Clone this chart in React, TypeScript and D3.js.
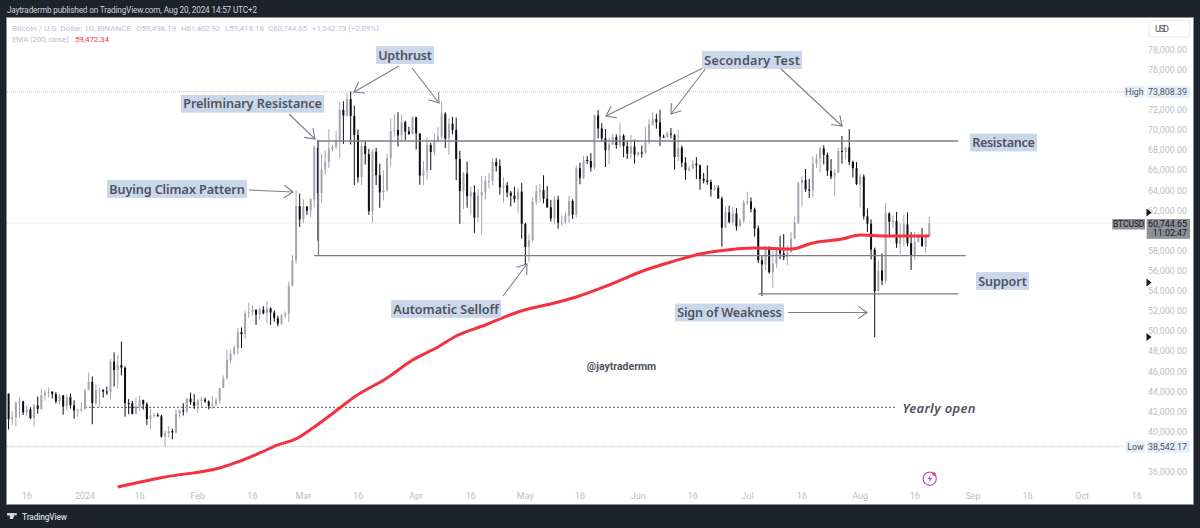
import React from "react";
import * as d3 from "d3";

const startDate = "2023-12-11";
const opens = [43791,41238,41450,42884,43022,41929,42240,41364,42623,42270,43652,43869,43997,43739,43016,43613,42520,43442,42627,42099,42142,42283,44179,44946,42845,44151,44162,43989,43943,46970,46139,46627,46368,42853,42842,41796,42511,43154,42742,41262,41618,41665,41545,39507,39845,40077,39934,41816,42120,42031,43302,42942,42580,43082,43200,43011,42582,42708,43098,44349,45288,47132,47751,48299,49917,49699,51795,51880,52124,51642,52137,51774,52258,51849,51288,50744,51568,51728,54476,57037,62432,61130,62387,61987,63113,68245,63724,66074,66823,68124,68313,68955,72000,71430,73072,71388,69499,65300,68393,67609,61937,67840,65501,63796,64037,67211,69880,69988,69469,70780,69850,69582,71280,69649,65463,65963,68487,67820,68896,69360,71620,69146,70631,70006,67116,63924,65661,63419,63793,61277,63470,63818,64941,64941,66819,66414,64289,64498,63770,63461,63118,63866,60672,58364,59060,62882,63892,64012,63165,62312,61193,63074,60799,60825,61483,62940,61577,66206,65235,67024,66915,66274,71446,70148,69166,67969,68549,69290,68507,69436,68398,67652,68352,67540,67766,67765,68809,70567,71082,70757,69342,69305,69649,69538,67321,68243,66756,66011,66191,66639,66490,65140,64960,64828,64096,64252,63180,60277,61806,60864,61706,60427,60986,62772,62899,62135,60208,57050,56628,58230,55857,56714,58050,57725,57339,57889,59204,60797,64724,65043,64087,63987,66660,67139,68165,67532,65936,65372,65777,67912,67813,68255,66819,66201,64619,65357,61415,60680,58116,53991,56034,55027,61710,60880,60945,58719,59354,60609,58739,57560,58874,59493,58439,59498];
const highs = [43808,42048,43000,43420,43080,42664,42450,42767,43500,44283,44200,44400,44000,43950,43800,43650,43700,43800,43124,42300,42900,44184,45879,45500,44700,44357,44214,44495,47248,47893,47650,48969,46515,43247,43079,43400,43578,43198,42930,42250,41840,41870,41689,40129,40555,40300,42246,42200,42842,43305,43882,43745,43285,43500,43380,43119,43550,43400,44369,45614,48200,48170,48592,50334,50368,52043,52816,52572,52162,52377,52488,52985,52371,52065,51548,51698,51958,54938,57588,64000,63676,63114,62433,63231,68499,69000,67641,67980,70083,68541,69887,72800,72850,73650,73808,72419,70043,68904,68956,68124,68106,68240,66649,65999,67622,71150,71561,71769,71552,70916,70321,71366,71288,69674,66914,69291,68725,69629,70284,72797,71758,71172,71305,71227,67931,65840,66867,64365,64499,64117,65450,65419,65700,67233,67199,67075,65297,64820,63923,64370,64228,64734,60780,59625,63333,64540,64646,65500,64422,63052,63424,63469,61515,61818,63450,63118,66444,66752,67451,67400,67700,71515,71979,70666,70096,69250,69588,69562,70687,69591,68935,69500,69044,67857,68460,70288,71063,71758,71625,71997,69560,69852,70195,69590,69999,68449,67294,66445,66999,67298,66556,65727,66482,65066,64526,64500,63369,62435,62480,62370,62225,61200,63058,63861,63288,62285,60498,57546,58475,58449,58236,58296,59470,59650,58526,59850,61420,64900,65388,66128,65133,67386,67598,68366,68480,67750,67102,66112,68200,69399,68318,70079,66950,66810,65659,65596,62198,61117,58305,57000,57737,62745,61800,61470,61855,60680,61572,61800,59849,59847,59700,60260,59617,61402];
const lows = [40222,40667,40555,41400,41666,41600,41250,40500,41800,42180,43100,43400,43300,42800,42700,41700,42100,42300,41300,41500,41965,42180,44148,40750,42630,42450,43397,43662,43200,44500,44300,45606,41500,41750,41720,41700,42047,42200,40683,40280,41400,41500,39431,38542,39484,39260,39822,41394,41620,41804,42683,42276,41884,42500,42880,42222,42258,42574,42788,44331,45242,46800,47558,47710,48300,49225,51314,51548,50625,51163,51677,50760,50625,50940,50500,50585,51279,50901,54450,56691,60364,60777,61561,61320,62300,59005,62779,65551,66230,67861,68094,67194,68620,71333,68555,64533,64780,64533,66565,61555,60775,64529,62260,63000,63825,66385,69280,68359,68903,69009,69540,69562,68062,64550,64493,65064,66011,67491,68851,69043,68210,67518,69567,65000,60660,62134,62274,61600,59768,60803,59600,63090,64207,64500,65864,63589,62794,63297,62391,62781,61765,59191,56552,56911,58811,62541,62822,62700,62261,60888,60630,60187,60487,60630,60749,61142,61319,64602,65106,66600,65857,66060,69162,68832,66312,66600,68536,68128,68250,67277,67124,67128,66670,67386,67257,67612,68567,70383,70119,68420,69210,69160,69172,66051,66905,66304,65055,65848,66109,65130,64066,64693,64559,63379,63945,63178,58402,60239,60712,60567,59985,60383,60712,62571,61806,59400,56771,53485,56018,55724,54260,56289,57157,57050,56542,57756,59204,60632,62373,63854,63238,63300,66222,65777,66574,65441,65111,63410,65738,66650,67066,66500,65301,64530,62302,61100,59850,57122,49400,53962,54558,54730,59488,60242,58286,57688,58407,58433,56078,57098,58785,58408,57787,59418];
const closes = [41243,41450,42890,43023,41929,42240,41364,42623,42270,43652,43870,43997,43739,43016,43613,42520,43442,42627,42099,42142,42283,44179,44946,42845,44151,44162,43989,43943,46970,46139,46627,46368,42853,42842,41796,42511,43154,42742,41262,41618,41665,41545,39507,39845,40077,39934,41816,42120,42031,43302,42942,42580,43082,43200,43011,42582,42708,43098,44349,45288,47132,47751,48299,49917,49699,51795,51880,52124,51642,52137,51774,52258,51849,51288,50744,51568,51728,54476,57037,62432,61130,62387,61987,63113,68245,63724,66074,66823,68124,68313,68955,72000,71430,73072,71388,69499,65300,68393,67609,61937,67840,65501,63796,64037,67211,69880,69988,69469,70780,69850,69582,71280,69649,65463,65963,68487,67820,68896,69360,71620,69146,70631,70006,67116,63924,65661,63419,63793,61277,63470,63818,64941,64941,66819,66414,64289,64498,63770,63461,63118,63866,60672,58364,59060,62882,63892,64012,63165,62312,61193,63074,60799,60825,61483,62940,61577,66206,65235,67024,66915,66274,71446,70148,69166,67969,68549,69290,68507,69436,68398,67652,68352,67540,67766,67765,68809,70567,71082,70757,69342,69305,69649,69538,67321,68243,66756,66011,66191,66639,66490,65140,64960,64828,64096,64252,63180,60277,61806,60864,61706,60427,60986,62772,62899,62135,60208,57050,56628,58230,55857,56714,58050,57725,57339,57889,59204,60797,64724,65043,64087,63987,66660,67139,68165,67532,65936,65372,65777,67912,67813,68255,66819,66201,64619,65357,61415,60680,58116,53991,56034,55027,61710,60880,60945,58719,59354,60609,58739,57560,58874,59493,58439,59498,60744];

const emaDates = ["2024-01-10","2024-01-23","2024-02-07","2024-02-12","2024-02-18","2024-02-23","2024-02-28","2024-03-04","2024-03-11","2024-03-15","2024-03-24","2024-03-31","2024-04-07","2024-04-12","2024-04-20","2024-04-29","2024-05-09","2024-05-15","2024-05-24","2024-06-03","2024-06-10","2024-06-18","2024-06-23","2024-07-03","2024-07-13","2024-07-19","2024-07-27","2024-08-01","2024-08-08","2024-08-20"];
const emaValues = [34512,35507,36402,36998,37893,38688,39284,40477,42365,43459,45347,47136,48428,49522,50615,51907,52802,53398,54590,56081,56876,57671,57969,58267,58168,58764,59160,59558,59460,59472];

const priceTicks = [78000,76000,74000,72000,70000,68000,66000,64000,62000,58000,56000,54000,52000,50000,48000,46000,44000,42000,40000,36000];
const timeTicks = [["2023-12-16","16"],["2024-01-01","2024"],["2024-01-16","16"],["2024-02-01","Feb"],["2024-02-16","16"],["2024-03-01","Mar"],["2024-03-16","16"],["2024-04-01","Apr"],["2024-04-16","16"],["2024-05-01","May"],["2024-05-16","16"],["2024-06-01","Jun"],["2024-06-16","16"],["2024-07-01","Jul"],["2024-07-16","16"],["2024-08-01","Aug"],["2024-08-16","16"],["2024-09-01","Sep"],["2024-09-16","16"],["2024-10-01","Oct"],["2024-10-16","16"]];

const resistanceLine = { from: "2024-03-05", to: "2024-08-28", price: 68905 };
const supportLine = { from: "2024-03-04", to: "2024-08-30", price: 57504 };
const weaknessLine = { from: "2024-07-04", to: "2024-08-28", price: 53700 };
const yearlyOpen = 42430;

const labels = [
  { t: "Upthrust", x: 405, y: 55, w: 58 },
  { t: "Preliminary Resistance", x: 252.5, y: 103.8, w: 143 },
  { t: "Buying Climax Pattern", x: 177, y: 189, w: 140 },
  { t: "Secondary Test", x: 752, y: 60, w: 100 },
  { t: "Resistance", x: 1003.5, y: 142.5, w: 67 },
  { t: "Support", x: 1002.5, y: 281, w: 53 },
  { t: "Automatic Selloff", x: 446, y: 309, w: 110 },
  { t: "Sign of Weakness", x: 729.5, y: 312.5, w: 109 },
];
const arrows = [
  [[399, 66], [354, 92]],
  [[412, 68], [439, 103]],
  [[289, 114], [315, 139]],
  [[249, 190], [293, 192]],
  [[703, 68], [606, 116]],
  [[706, 68], [671, 114]],
  [[780, 68], [842, 126]],
  [[503, 296], [527, 264]],
  [[788, 312.5], [867, 312.5]],
];

const parse = d3.utcParse("%Y-%m-%d");
const x = d3.scaleUtc().domain([parse("2024-01-01")!, parse("2024-08-20")!]).range([85, 929.3]);
const y = d3.scaleLinear().domain([36000, 78000]).range([472, 49.5]);
const start = parse(startDate)!;
const dayX = (i: number) => x(d3.utcDay.offset(start, i));

const emaLine = d3.line<number>()
  .x((_, i) => x(parse(emaDates[i])!))
  .y((d) => y(d))
  .curve(d3.curveMonotoneX);

const UP = "#a3a6af";
const DOWN = "#0e0e10";
const DARK = "#1e222d";
const AXIS = "#bcbec6";
const LABEL = "#50535e";
const LABELBG = "#cad7ea";
const LINE = "#7b7e8a";
const FONT = "Roboto, sans-serif";
const LFONT = "'Noto Sans', sans-serif";

function Label({ t, x, y, w }: { t: string; x: number; y: number; w: number }) {
  return (
    <g>
      <rect x={x - w / 2} y={y - 8.9} width={w} height={17.8} fill={LABELBG} />
      <text x={x - w / 2 + 2.2} y={y + 4.5} textLength={w - 4.4} fontFamily={LFONT} fontWeight={600} fontSize={12.6} fill={LABEL}>{t}</text>
    </g>
  );
}

function Arrow({ a, b }: { a: number[]; b: number[] }) {
  const ang = Math.atan2(b[1] - a[1], b[0] - a[0]);
  const h = 11;
  const p1 = [b[0] - h * Math.cos(ang - 0.62), b[1] - h * Math.sin(ang - 0.62)];
  const p2 = [b[0] - h * Math.cos(ang + 0.62), b[1] - h * Math.sin(ang + 0.62)];
  return (
    <g stroke="#7a7d8b" strokeWidth={1.1} fill="none">
      <line x1={a[0]} y1={a[1]} x2={b[0]} y2={b[1]} />
      <polyline points={`${p1[0]},${p1[1]} ${b[0]},${b[1]} ${p2[0]},${p2[1]}`} />
    </g>
  );
}

function HLine({ l }: { l: { from: string; to: string; price: number } }) {
  return <line x1={x(parse(l.from)!)} x2={x(parse(l.to)!)} y1={y(l.price)} y2={y(l.price)} stroke={LINE} strokeWidth={1.3} />;
}

export default function App() {
  const hdr = { fontFamily: FONT, fontSize: 8.1, fill: "#bcbfc7" };
  return (
    <svg width={1200} height={528} style={{ position: "absolute", left: 0, top: 0 }}>
      <rect width={1200} height={528} fill={DARK} />
      <rect x={6.5} y={17.5} width={1187} height={487} fill="#fff" stroke="#8d9098" strokeWidth={1} />
      <text x={7} y={13} textLength={250} fontFamily={FONT} fontSize={8.2} fill="#d1d4dc">Jaytradermb published on TradingView.com, Aug 20, 2024 14:57 UTC+2</text>

      <text x={12} y={30.5} textLength={119} {...hdr}>Bitcoin / U.S. Dollar, 1D, BINANCE</text>
      <text x={136} y={30.5} textLength={40} {...hdr}>O59,498.19</text>
      <text x={181} y={30.5} textLength={39} {...hdr}>H61,402.92</text>
      <text x={225} y={30.5} textLength={39} {...hdr}>L59,418.18</text>
      <text x={268} y={30.5} textLength={39} {...hdr}>C60,744.65</text>
      <text x={312} y={30.5} textLength={67} {...hdr}>+1,242.73 (+2.09%)</text>
      <text x={12} y={41.5} textLength={57} {...hdr}>EMA (200, close)</text>
      <text x={75} y={41.5} textLength={34} {...hdr} fill="#f23645">59,472.34</text>

      {/* high, low, last-price dotted lines */}
      <line x1={7} x2={1124} y1={y(73808)} y2={y(73808)} stroke="#c4c5c9" strokeWidth={1} strokeDasharray="1 1" />
      <line x1={7} x2={1125} y1={y(38542)} y2={y(38542)} stroke="#c4c5c9" strokeWidth={1} strokeDasharray="1 1" />
      <line x1={7} x2={1112} y1={y(60744)} y2={y(60744)} stroke="#dcdde0" strokeWidth={1} strokeDasharray="1 1" />
      <line x1={x(parse("2024-01-01")!)} x2={896} y1={y(yearlyOpen)} y2={y(yearlyOpen)} stroke="#55585f" strokeWidth={1} strokeDasharray="2 2" />
      <text x={902.5} y={412.5} textLength={73} fontFamily={LFONT} fontStyle="italic" fontWeight={600} fontSize={13} fill={LABEL}>Yearly open</text>

      {/* candles */}
      {closes.map((c, i) => {
        const up = c >= opens[i];
        const col = up ? UP : DOWN;
        const cx = dayX(i);
        const t = y(Math.max(opens[i], c));
        const b = y(Math.min(opens[i], c));
        return (
          <g key={i}>
            <line x1={cx} x2={cx} y1={y(highs[i])} y2={y(lows[i])} stroke={col} strokeWidth={1} />
            <rect x={cx - 1} y={t} width={2} height={Math.max(b - t, 1)} fill={col} />
          </g>
        );
      })}

      {/* annotations */}
      <HLine l={resistanceLine} />
      <HLine l={supportLine} />
      <HLine l={weaknessLine} />
      <line x1={318.5} x2={318.5} y1={y(resistanceLine.price)} y2={y(supportLine.price)} stroke={LINE} strokeWidth={1.3} />

      <path d={emaLine(emaValues) ?? ""} fill="none" stroke="#f5303f" strokeWidth={3} strokeLinejoin="round" />

      {arrows.map((a, i) => <Arrow key={i} a={a[0]} b={a[1]} />)}
      {labels.map((l) => <Label key={l.t} {...l} />)}

      <text x={621.5} y={370} textAnchor="middle" fontFamily={FONT} fontWeight={700} fontSize={10.5} fill={LABEL}>@jaytradermm</text>

      {/* price axis */}
      {priceTicks.map((p) => (
        <text key={p} x={1187} y={y(p) + 3.2} textAnchor="end" fontFamily={FONT} fontSize={8.9} fill={AXIS}>{d3.format(",.2f")(p)}</text>
      ))}
      <rect x={1149} y={20.5} width={41} height={16.5} rx={2.5} fill="#fff" stroke="#e8e9ec" />
      <text x={1155} y={32.2} textLength={14} fontFamily={FONT} fontSize={9} fill={LABEL}>USD</text>

      <rect x={1124} y={86.2} width={21} height={11.5} fill="#e3effa" />
      <rect x={1146.7} y={86.2} width={43.3} height={11.5} fill="#e3effa" />
      <text x={1134.5} y={95.2} textAnchor="middle" fontFamily={FONT} fontSize={8.9} fill={LABEL}>High</text>
      <text x={1187} y={95.2} textAnchor="end" fontFamily={FONT} fontSize={8.9} fill={LABEL}>73,808.39</text>
      <rect x={1125.7} y={441.2} width={19.3} height={11.5} fill="#e3effa" />
      <rect x={1147} y={441.2} width={43} height={11.5} fill="#e3effa" />
      <text x={1135.5} y={450.2} textAnchor="middle" fontFamily={FONT} fontSize={8.9} fill={LABEL}>Low</text>
      <text x={1187} y={450.2} textAnchor="end" fontFamily={FONT} fontSize={8.9} fill={LABEL}>38,542.17</text>

      <rect x={1112.3} y={219} width={32.7} height={10.5} fill="#8f9099" />
      <text x={1128.7} y={227.4} textAnchor="middle" fontFamily={FONT} fontSize={8.4} fill="#131722">BTCUSD</text>
      <rect x={1146.7} y={219} width={43.3} height={19.8} fill="#8f9099" />
      <text x={1187} y={227.4} textAnchor="end" fontFamily={FONT} fontSize={8.9} fill="#131722">60,744.65</text>
      <text x={1187} y={236.4} textAnchor="end" fontFamily={FONT} fontSize={8.9} fill="#131722">11:02:47</text>

      <path d="M1146.5 208.5 l5 4 -5 4z" fill="#131722" />
      <path d="M1146.5 278.5 l5 4 -5 4z" fill="#131722" />
      <path d="M1146.5 333 l5 4 -5 4z" fill="#131722" />

      {/* time axis */}
      {timeTicks.map(([d, t], i) => (
        <text key={i} x={x(parse(d)!)} y={499} textAnchor="middle" fontFamily={FONT} fontSize={9} fill={AXIS}>{t}</text>
      ))}

      {/* publish-mode icon */}
      <circle cx={929.7} cy={478.7} r={6.6} fill="none" stroke="#ba55d3" strokeWidth={1.2} />
      <path d="M931 474.5 l-3.6 4.8 h2.6 l-1.4 3.6 3.8 -5 h-2.6z" fill="#ba55d3" />
      <circle cx={934} cy={474} r={1.7} fill="#f23645" />

      {/* footer */}
      <path d="M7 513 h5.4 v6 h-2.6 v-3.4 h-2.8z M12.6 513 h2.9 l-2.6 6 h-2.2z M15.8 513 a1.2 1.2 0 1 0 0.1 0z" fill="#d1d4dc" />
      <text x={22} y={520} textLength={45} fontFamily={FONT} fontSize={8.4} fontWeight={500} fill="#d1d4dc">TradingView</text>
    </svg>
  );
}
